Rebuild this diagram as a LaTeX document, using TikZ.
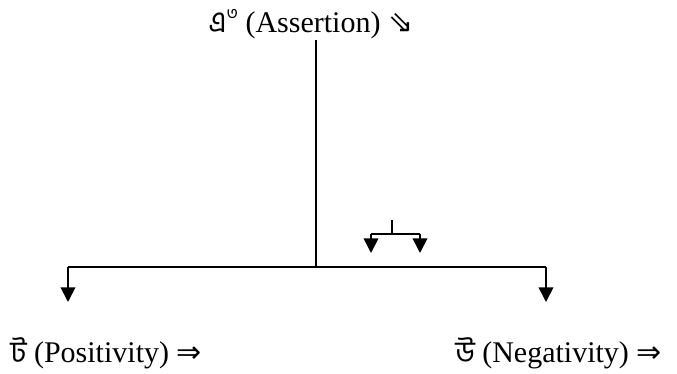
\documentclass[tikz,border=0pt]{standalone}
\usepackage{fontspec}
\setmainfont{Liberation Serif}
\newfontfamily\bnfont[Script=Bengali]{Hind Siliguri}
\newfontfamily\arrfont{DejaVu Sans}
\usetikzlibrary{arrows.meta, positioning}

\begin{document}
\begin{tikzpicture}[
        x=0.75pt, y=-0.75pt,
        lbl/.style={inner sep=0pt, anchor=base west, font=\fontsize{22.5}{27}\selectfont},
        lnk/.style={line width=1.3pt},
        >={Triangle[width=11pt, length=11pt]}
      ]
        \useasboundingbox (0,0) rectangle (677,374);

        % labels
        \node[lbl] (assert) at (208,33) {{\bnfont এ\raisebox{0.45em}{\fontsize{13}{13}\selectfont ৩}} (Assertion) {\arrfont ⇘}};
        \node[lbl] (pos) at (10,362) {{\bnfont ট} (Positivity) {\arrfont ⇒}};
        \node[lbl] (neg) at (455,362) {{\bnfont উ} (Negativity) {\arrfont ⇒}};

        % junctions of the main tree
        \coordinate (hub) at (316,267);
        \coordinate (lft) at (68,267);
        \coordinate (rgt) at (546,267);
        \coordinate (lftend) at (68,302);
        \coordinate (rgtend) at (546,302);

        % small fork
        \coordinate (fk) at (392,220);
        \coordinate (fkj) at (392,234);
        \coordinate (fkl) at (371,234);
        \coordinate (fkr) at (420,234);
        \coordinate (fkle) at (371,253);
        \coordinate (fkre) at (420,253);

        \draw[lnk] (assert.south -| hub) -- (hub);
        \draw[lnk] (lft) -- (rgt);
        \draw[lnk,->] (lft) -- (lftend);
        \draw[lnk,->] (rgt) -- (rgtend);

        \draw[lnk] (fk) -- (fkj);
        \draw[lnk] (fkl) -- (fkr);
        \draw[lnk,->] (fkl) -- (fkle);
        \draw[lnk,->] (fkr) -- (fkre);
    \end{tikzpicture}
\end{document}
